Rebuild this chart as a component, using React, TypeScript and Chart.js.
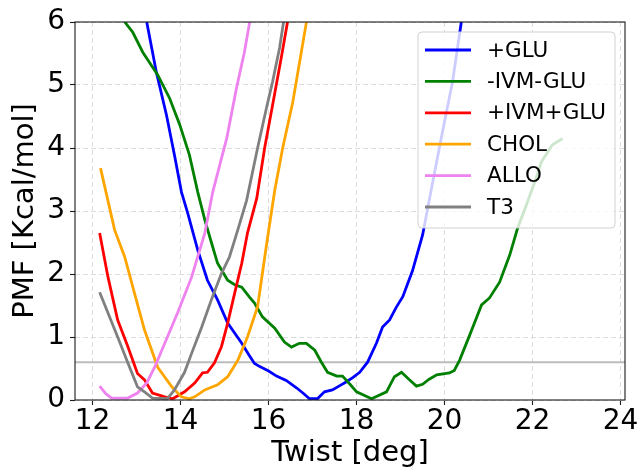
import React, { useEffect, useRef } from 'react';
import { Chart, registerables } from 'chart.js';

Chart.register(...registerables);

const FONT = '"DejaVu Sans", "Liberation Sans", sans-serif';

// ---------- data ----------
const seriesLabels = ['+GLU', '-IVM-GLU', '+IVM+GLU', 'CHOL', 'ALLO', 'T3'];
const seriesColors = ['#0000ff', '#008000', '#ff0000', '#ffa500', '#ee82ee', '#808080'];

const gluTwist = [13.23, 13.45, 13.68, 13.86, 14.02, 14.16, 14.39, 14.61, 14.84, 15.07, 15.39, 15.55, 15.68, 15.8, 16.0, 16.18, 16.4, 16.64, 16.8, 16.93, 17.11, 17.27, 17.45, 17.6, 17.77, 17.92, 18.07, 18.25, 18.45, 18.59, 18.75, 18.9, 19.05, 19.27, 19.5, 19.73, 19.95, 20.18, 20.38];
const gluPmf = [6.0, 5.2, 4.52, 3.89, 3.3, 2.97, 2.38, 1.9, 1.59, 1.22, 0.9, 0.72, 0.58, 0.53, 0.46, 0.38, 0.31, 0.19, 0.1, 0.02, 0.02, 0.13, 0.16, 0.22, 0.29, 0.36, 0.44, 0.6, 0.9, 1.16, 1.27, 1.47, 1.64, 2.05, 2.62, 3.46, 4.25, 5.05, 6.0];

const ivmGluMinusTwist = [12.73, 12.91, 13.14, 13.48, 13.75, 13.98, 14.2, 14.39, 14.55, 14.7, 14.84, 15.07, 15.23, 15.39, 15.57, 15.68, 15.86, 16.14, 16.36, 16.52, 16.7, 16.86, 17.05, 17.2, 17.34, 17.55, 17.68, 17.85, 18.0, 18.34, 18.68, 18.86, 19.02, 19.2, 19.36, 19.5, 19.65, 19.82, 20.11, 20.22, 20.34, 20.57, 20.84, 21.02, 21.25, 21.48, 21.66, 21.86, 22.05, 22.2, 22.45, 22.68];
const ivmGluMinusPmf = [6.0, 5.84, 5.52, 5.16, 4.79, 4.37, 3.89, 3.3, 2.86, 2.5, 2.17, 1.9, 1.83, 1.79, 1.63, 1.54, 1.32, 1.14, 0.92, 0.84, 0.9, 0.9, 0.79, 0.6, 0.44, 0.38, 0.38, 0.25, 0.13, 0.02, 0.13, 0.37, 0.44, 0.32, 0.22, 0.25, 0.33, 0.4, 0.43, 0.47, 0.63, 1.03, 1.51, 1.62, 1.87, 2.3, 2.73, 3.1, 3.46, 3.78, 4.05, 4.15];

const ivmGluPlusTwist = [12.16, 12.35, 12.57, 12.8, 13.02, 13.18, 13.36, 13.64, 13.82, 14.09, 14.32, 14.5, 14.61, 14.77, 14.93, 15.07, 15.23, 15.39, 15.52, 15.73, 15.91, 16.09, 16.3, 16.43];
const ivmGluPlusPmf = [2.65, 1.95, 1.27, 0.85, 0.42, 0.32, 0.11, 0.05, 0.02, 0.13, 0.27, 0.43, 0.44, 0.59, 0.85, 1.22, 1.7, 2.17, 2.65, 3.2, 4.0, 4.68, 5.48, 6.0];

const cholTwist = [12.18, 12.5, 12.73, 12.95, 13.18, 13.48, 13.8, 14.02, 14.2, 14.32, 14.55, 14.84, 15.07, 15.3, 15.52, 15.75, 15.96, 16.14, 16.32, 16.55, 16.86];
const cholPmf = [3.68, 2.7, 2.27, 1.7, 1.11, 0.52, 0.21, 0.05, 0.02, 0.05, 0.16, 0.24, 0.37, 0.63, 1.0, 1.48, 2.5, 3.33, 4.0, 4.73, 6.0];

const alloTwist = [12.16, 12.3, 12.43, 12.8, 13.02, 13.23, 13.41, 13.64, 13.93, 14.25, 14.55, 14.73, 15.05, 15.27, 15.45, 15.57];
const alloPmf = [0.22, 0.1, 0.03, 0.03, 0.11, 0.27, 0.52, 0.9, 1.38, 1.95, 2.65, 3.3, 4.16, 4.95, 5.52, 6.0];

const t3Twist = [12.16, 12.35, 12.57, 12.8, 13.02, 13.18, 13.36, 13.7, 13.86, 14.09, 14.25, 14.48, 14.7, 14.93, 15.11, 15.3, 15.5, 15.75, 15.95, 16.09, 16.25, 16.34];
const t3Pmf = [1.71, 1.38, 1.0, 0.59, 0.21, 0.13, 0.03, 0.02, 0.16, 0.44, 0.74, 1.16, 1.59, 2.01, 2.27, 2.7, 3.17, 4.0, 4.63, 5.05, 5.59, 6.0];

const thresholdPmf = 0.6;
const xLimits = [11.6, 24.1];
const yLimits = [0, 6];
const xTicks = [12, 14, 16, 18, 20, 22, 24];
const yTicks = [0, 1, 2, 3, 4, 5, 6];

const seriesTwist = [gluTwist, ivmGluMinusTwist, ivmGluPlusTwist, cholTwist, alloTwist, t3Twist];
const seriesPmf = [gluPmf, ivmGluMinusPmf, ivmGluPlusPmf, cholPmf, alloPmf, t3Pmf];

const toPoints = (xs: number[], ys: number[]) => xs.map((x, i) => ({ x, y: ys[i] }));

// ---------- plugins ----------
const framePlugin = {
  id: 'frame',
  afterDatasetsDraw(chart: any) {
    const { ctx, chartArea } = chart;
    ctx.save();
    ctx.strokeStyle = '#1a1a1a';
    ctx.lineWidth = 1.1;
    ctx.strokeRect(chartArea.left, chartArea.top, chartArea.right - chartArea.left, chartArea.bottom - chartArea.top);
    ctx.restore();
  },
};

const legendPlugin = {
  id: 'mplLegend',
  afterDraw(chart: any) {
    const { ctx, chartArea } = chart;
    const items = chart.data.datasets.filter((d: any) => !d.isReference);
    const boxW = 197;
    const rowH = 31.4;
    const boxH = 196;
    const x0 = chartArea.right - 10 - boxW;
    const y0 = chartArea.top + 10;
    ctx.save();
    const r = 4;
    ctx.beginPath();
    ctx.moveTo(x0 + r, y0);
    ctx.lineTo(x0 + boxW - r, y0);
    ctx.arcTo(x0 + boxW, y0, x0 + boxW, y0 + r, r);
    ctx.lineTo(x0 + boxW, y0 + boxH - r);
    ctx.arcTo(x0 + boxW, y0 + boxH, x0 + boxW - r, y0 + boxH, r);
    ctx.lineTo(x0 + r, y0 + boxH);
    ctx.arcTo(x0, y0 + boxH, x0, y0 + boxH - r, r);
    ctx.lineTo(x0, y0 + r);
    ctx.arcTo(x0, y0, x0 + r, y0, r);
    ctx.closePath();
    ctx.fillStyle = 'rgba(255,255,255,0.8)';
    ctx.fill();
    ctx.strokeStyle = 'rgba(204,204,204,0.9)';
    ctx.lineWidth = 1;
    ctx.stroke();

    ctx.font = `21.5px ${FONT}`;
    ctx.textBaseline = 'middle';
    ctx.textAlign = 'left';
    items.forEach((d: any, i: number) => {
      const cy = y0 + 18 + i * rowH;
      ctx.beginPath();
      ctx.strokeStyle = d.borderColor;
      ctx.lineWidth = 2.8;
      ctx.moveTo(x0 + 7, cy);
      ctx.lineTo(x0 + 53, cy);
      ctx.stroke();
      ctx.fillStyle = '#000';
      ctx.fillText(d.label, x0 + 69, cy + 1);
    });
    ctx.restore();
  },
};

export default function App() {
  const canvasRef = useRef<HTMLCanvasElement>(null);

  useEffect(() => {
    document.body.style.margin = '0';
    const canvas = canvasRef.current;
    if (!canvas) return;

    const datasets: any[] = seriesLabels.map((label, i) => ({
      label,
      data: toPoints(seriesTwist[i], seriesPmf[i]),
      borderColor: seriesColors[i],
      backgroundColor: seriesColors[i],
      borderWidth: 2.8,
      pointRadius: 0,
      fill: false,
      tension: 0,
      order: 10 - i,
    }));
    datasets.push({
      label: 'reference',
      isReference: true,
      data: [
        { x: xLimits[0], y: thresholdPmf },
        { x: xLimits[1], y: thresholdPmf },
      ],
      borderColor: 'rgba(176,176,176,0.85)',
      borderWidth: 2,
      pointRadius: 0,
      fill: false,
      order: 100,
    });

    const gridBase = {
      color: '#dcdcdc',
      lineWidth: 1,
      tickLength: 5,
      tickColor: '#1a1a1a',
      tickWidth: 1.1,
      tickBorderDash: [],
    };

    const chart = new Chart(canvas, {
      type: 'line',
      data: { datasets },
      plugins: [framePlugin, legendPlugin],
      options: {
        animation: false,
        responsive: false,
        events: [],
        layout: { padding: { left: 0, right: 15, top: 22, bottom: 0 } },
        plugins: {
          legend: { display: false },
          tooltip: { enabled: false },
        },
        scales: {
          x: {
            type: 'linear',
            min: xLimits[0],
            max: xLimits[1],
            afterBuildTicks: (s: any) => {
              s.ticks = xTicks.map((v) => ({ value: v }));
            },
            afterFit: (s: any) => {
              s.height = 68;
              s.paddingLeft = 0;
              s.paddingRight = 0;
            },
            ticks: {
              font: { family: FONT, size: 28, lineHeight: 1 },
              color: '#000',
              padding: 3,
              maxRotation: 0,
              autoSkip: false,
            },
            grid: gridBase,
            border: { display: false, dash: [5, 3] },
            title: {
              display: true,
              text: 'Twist [deg]',
              color: '#000',
              font: { family: FONT, size: 29, lineHeight: 1 },
              padding: 0,
            },
          },
          y: {
            type: 'linear',
            min: yLimits[0],
            max: yLimits[1],
            afterBuildTicks: (s: any) => {
              s.ticks = yTicks.map((v) => ({ value: v }));
            },
            afterFit: (s: any) => {
              s.width = 75;
              s.paddingTop = 0;
              s.paddingBottom = 0;
            },
            ticks: {
              font: { family: FONT, size: 28, lineHeight: 1 },
              color: '#000',
              padding: 5,
            },
            grid: gridBase,
            border: { display: false, dash: [5, 3] },
            title: {
              display: true,
              text: 'PMF [Kcal/mol]',
              color: '#000',
              font: { family: FONT, size: 29, lineHeight: 1 },
              padding: { top: 10.5, bottom: 0 },
            },
          },
        },
      } as any,
    });

    return () => chart.destroy();
  }, []);

  return (
    <div style={{ width: 640, height: 468 }}>
      <canvas ref={canvasRef} width={640} height={468} style={{ display: 'block' }} />
    </div>
  );
}
